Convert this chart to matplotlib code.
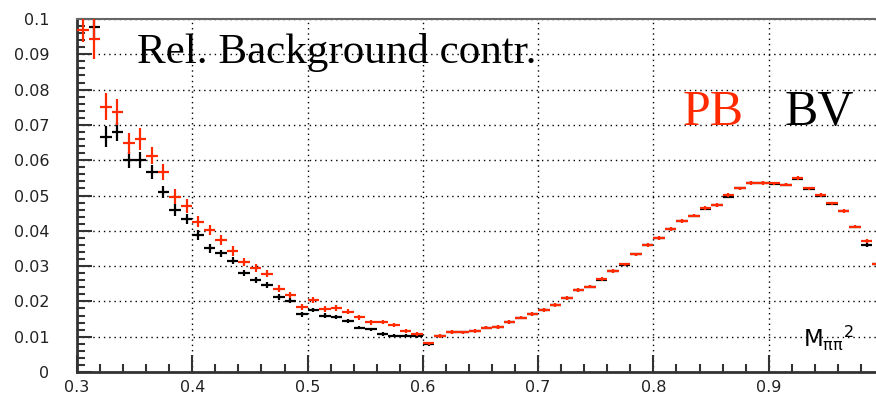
import numpy as np
import matplotlib
matplotlib.use("Agg")
import matplotlib.pyplot as plt
from matplotlib.ticker import MultipleLocator, FuncFormatter

# bin centres, M_pipi^2 from 0.3 to 1.0 in steps of 0.01
mass = [0.305, 0.315, 0.325, 0.335, 0.345, 0.355, 0.365, 0.375, 0.385, 0.395,
        0.405, 0.415, 0.425, 0.435, 0.445, 0.455, 0.465, 0.475, 0.485, 0.495,
        0.505, 0.515, 0.525, 0.535, 0.545, 0.555, 0.565, 0.575, 0.585, 0.595,
        0.605, 0.615, 0.625, 0.635, 0.645, 0.655, 0.665, 0.675, 0.685, 0.695,
        0.705, 0.715, 0.725, 0.735, 0.745, 0.755, 0.765, 0.775, 0.785, 0.795,
        0.805, 0.815, 0.825, 0.835, 0.845, 0.855, 0.865, 0.875, 0.885, 0.895,
        0.905, 0.915, 0.925, 0.935, 0.945, 0.955, 0.965, 0.975, 0.985, 0.995]
half_bin = 0.005

# PB (red)
pb = [0.0970, 0.0943, 0.0752, 0.0737, 0.0648, 0.0660, 0.0613, 0.0566, 0.0497, 0.0471,
      0.0426, 0.0402, 0.0374, 0.0343, 0.0311, 0.0294, 0.0278, 0.0236, 0.0218, 0.0185,
      0.0204, 0.0178, 0.0182, 0.0171, 0.0155, 0.0141, 0.0141, 0.0133, 0.0117, 0.0108,
      0.0081, 0.0102, 0.0114, 0.0112, 0.0116, 0.0126, 0.0128, 0.0141, 0.0154, 0.0164,
      0.0176, 0.0190, 0.0209, 0.0232, 0.0242, 0.0263, 0.0286, 0.0305, 0.0333, 0.0360,
      0.0379, 0.0405, 0.0428, 0.0443, 0.0464, 0.0473, 0.0502, 0.0520, 0.0536, 0.0536,
      0.0534, 0.0531, 0.0549, 0.0520, 0.0501, 0.0478, 0.0456, 0.0412, 0.0371, 0.0305]
pb_err = [0.0035, 0.0057, 0.0038, 0.0037, 0.0030, 0.0030, 0.0025, 0.0023, 0.0020, 0.0020,
          0.0016, 0.0015, 0.0014, 0.0013, 0.0012, 0.0011, 0.0010, 0.0010, 0.0009, 0.0009,
          0.0008, 0.0008, 0.0008, 0.0007, 0.0007, 0.0007, 0.0006, 0.0006, 0.0006, 0.0006,
          0.0005, 0.0005, 0.0005, 0.0005, 0.0005, 0.0005, 0.0005, 0.0005, 0.0005, 0.0005,
          0.0005, 0.0005, 0.0005, 0.0005, 0.0005, 0.0005, 0.0005, 0.0005, 0.0005, 0.0005,
          0.0005, 0.0005, 0.0005, 0.0005, 0.0005, 0.0005, 0.0005, 0.0005, 0.0005, 0.0005,
          0.0005, 0.0005, 0.0005, 0.0005, 0.0005, 0.0005, 0.0005, 0.0005, 0.0006, 0.0006]

# BV (black)
bv = [np.nan, 0.0977, 0.0667, 0.0681, 0.0600, 0.0600, 0.0566, 0.0510, 0.0459, 0.0433,
      0.0388, 0.0350, 0.0336, 0.0315, 0.0280, 0.0261, 0.0246, 0.0213, 0.0202, 0.0164,
      0.0175, 0.0160, 0.0155, 0.0145, 0.0126, 0.0121, 0.0108, 0.0103, 0.0103, 0.0102,
      0.0079, 0.0102, 0.0113, 0.0112, 0.0116, 0.0125, 0.0127, 0.0141, 0.0153, 0.0164,
      0.0176, 0.0190, 0.0209, 0.0232, 0.0242, 0.0262, 0.0285, 0.0304, 0.0333, 0.0360,
      0.0379, 0.0404, 0.0428, 0.0442, 0.0463, 0.0472, 0.0497, 0.0520, 0.0536, 0.0536,
      0.0533, 0.0530, 0.0548, 0.0519, 0.0500, 0.0477, 0.0456, 0.0411, 0.0360, 0.0305]
bv_err = [0.0030, 0.0030, 0.0030, 0.0028, 0.0022, 0.0022, 0.0020, 0.0018, 0.0016, 0.0015,
          0.0013, 0.0012, 0.0011, 0.0010, 0.0009, 0.0009, 0.0008, 0.0008, 0.0007, 0.0007,
          0.0006, 0.0006, 0.0006, 0.0005, 0.0005, 0.0005, 0.0005, 0.0005, 0.0005, 0.0005,
          0.0004, 0.0004, 0.0004, 0.0004, 0.0004, 0.0004, 0.0004, 0.0004, 0.0004, 0.0004,
          0.0004, 0.0004, 0.0004, 0.0004, 0.0004, 0.0004, 0.0004, 0.0004, 0.0004, 0.0004,
          0.0004, 0.0004, 0.0004, 0.0004, 0.0004, 0.0004, 0.0004, 0.0004, 0.0004, 0.0004,
          0.0004, 0.0004, 0.0004, 0.0004, 0.0004, 0.0004, 0.0004, 0.0004, 0.0005, 0.0005]

red = '#ff2a00'
W, H = 876, 398

fig = plt.figure(figsize=(W / 100, H / 100), dpi=100)
# axes run out past the right edge of the picture (x=1.0 is cut off)
ax = fig.add_axes([77 / W, 1 - 372 / H, 807 / W, (372 - 19) / H])

ax.errorbar(mass, bv, xerr=half_bin, yerr=bv_err, fmt='none', ecolor='black',
            elinewidth=1.6, capsize=0, zorder=3)
ax.errorbar(mass, pb, xerr=half_bin, yerr=pb_err, fmt='none', ecolor=red,
            elinewidth=1.6, capsize=0, zorder=4)

ax.set_xlim(0.3, 1.0)
ax.set_ylim(0, 0.1)

ax.xaxis.set_major_locator(MultipleLocator(0.1))
ax.xaxis.set_minor_locator(MultipleLocator(0.02))
ax.yaxis.set_major_locator(MultipleLocator(0.01))
ax.yaxis.set_minor_locator(MultipleLocator(0.002))
# the 1.0 label falls outside the picture, so leave it blank
ax.xaxis.set_major_formatter(FuncFormatter(lambda v, p: '' if v > 0.95 else '%g' % round(v, 3)))
ax.yaxis.set_major_formatter(FuncFormatter(lambda v, p: '%g' % round(v, 3)))

ax.grid(True, which='major', color='black', linewidth=1.0, linestyle=(0, (1, 2.8)))
ax.set_axisbelow(True)

ax.tick_params(axis='both', which='both', direction='in', colors='#333333',
               labelcolor='#222222', labelsize=11.5)
ax.tick_params(axis='y', which='major', length=11, width=1.5, pad=20)
ax.tick_params(axis='y', which='minor', length=6, width=1.5)
ax.tick_params(axis='x', which='major', length=12, width=1.5, pad=6)
ax.tick_params(axis='x', which='minor', length=6, width=1.5)
for lab in ax.get_xticklabels() + ax.get_yticklabels():
    lab.set_family('DejaVu Sans')

for side in ['left', 'bottom']:
    ax.spines[side].set_linewidth(2)
    ax.spines[side].set_color('#333333')
ax.spines['top'].set_linewidth(1.5)
ax.spines['top'].set_color('#666666')

fig.text(137 / W, 1 - 63 / H, 'Rel. Background contr.', family='Liberation Serif',
         fontsize=31, color='black', va='baseline', ha='left')
fig.text(683 / W, 1 - 125 / H, 'PB', family='Liberation Serif',
         fontsize=36, color=red, va='baseline', ha='left')
fig.text(785 / W, 1 - 125 / H, 'BV', family='Liberation Serif',
         fontsize=36, color='black', va='baseline', ha='left')
fig.text(803 / W, 1 - 347 / H, r'M$_{\mathrm{\pi\pi}}$$^{2}$', family='DejaVu Sans',
         fontsize=16.5, color='black', va='baseline', ha='left')

fig.savefig('out.png', dpi=100)
